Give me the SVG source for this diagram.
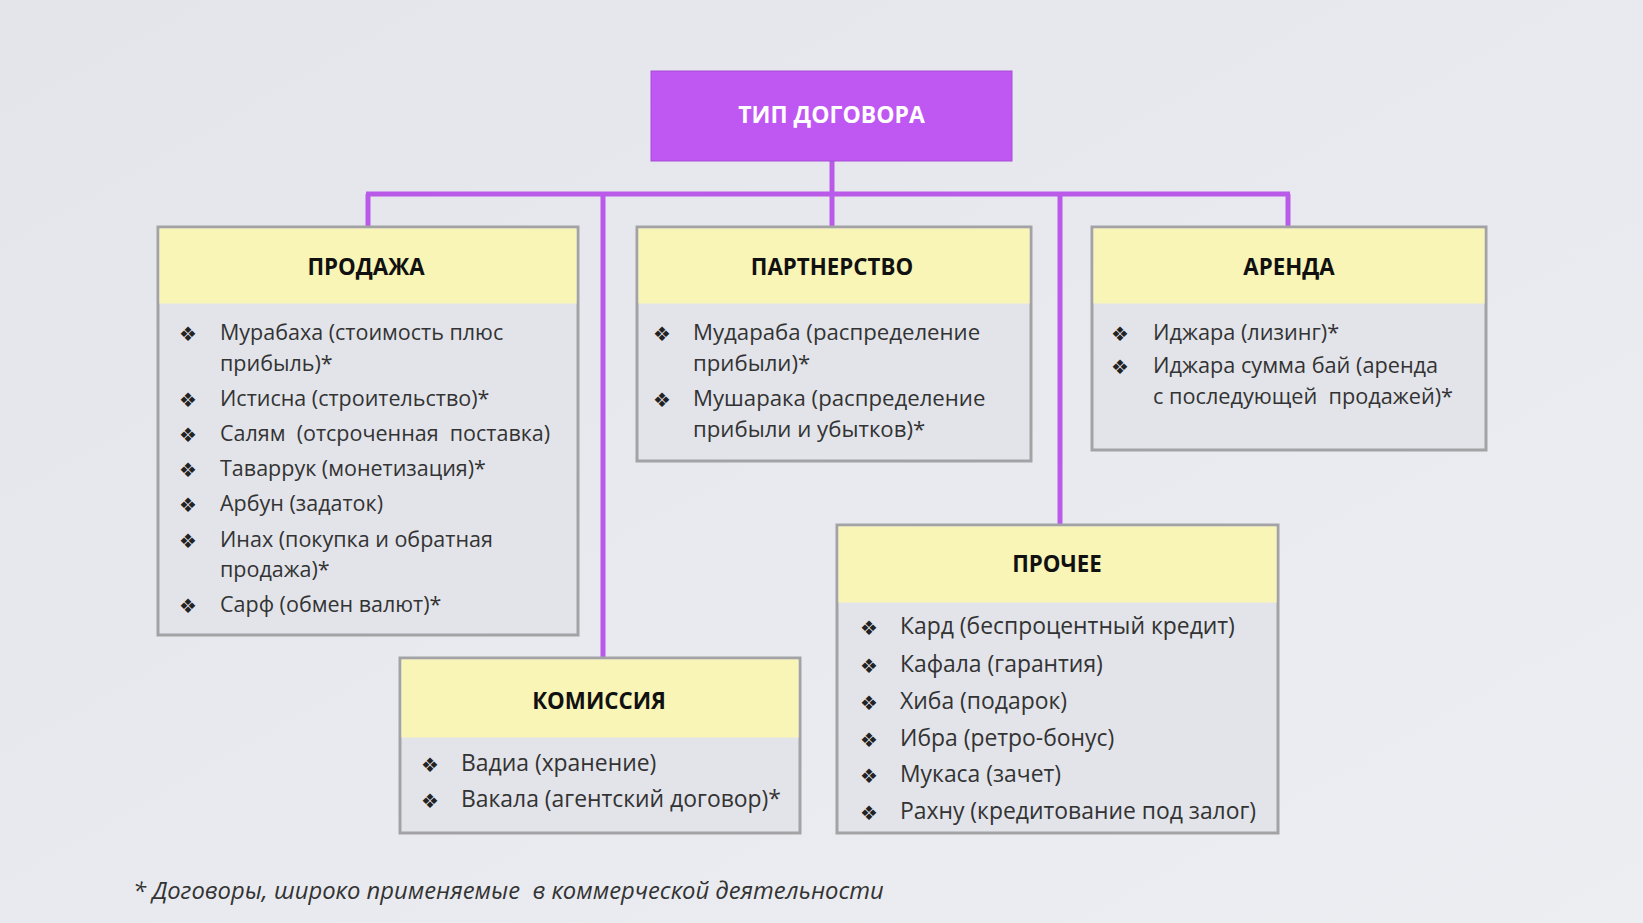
<svg xmlns="http://www.w3.org/2000/svg" width="1643" height="923" viewBox="0 0 1643 923">
<defs>
<linearGradient id="bg" x1="0" y1="0" x2="1" y2="1">
<stop offset="0" stop-color="#e3e5eb"/>
<stop offset="1" stop-color="#eceef2"/>
</linearGradient>
<style>
.box{fill:#e2e4ea;stroke:#a3a3a6;stroke-width:3}
.hdr{fill:#f9f5b6}
.ht{font-family:"Open Sans","Liberation Sans",sans-serif;font-weight:bold;font-size:22.3px;fill:#111;text-anchor:middle}
.it{font-family:"Open Sans","Liberation Sans",sans-serif;font-size:21.5px;fill:#333}
.it2{font-size:22.2px}
.it4{font-size:21.7px}
.it3{font-size:22.9px}
.bu{font-family:"DejaVu Sans",sans-serif;font-size:20px;fill:#222;text-anchor:middle}
.con{stroke:#b95ae9;stroke-width:5;fill:none}
</style>
</defs>
<rect x="0" y="0" width="1643" height="923" fill="url(#bg)"/>
<g id="connectors">
<line class="con" x1="832" y1="161" x2="832" y2="226"/>
<line class="con" x1="366" y1="194" x2="1290" y2="194"/>
<line class="con" x1="368" y1="194" x2="368" y2="226"/>
<line class="con" x1="603" y1="194" x2="603" y2="657"/>
<line class="con" x1="1060" y1="194" x2="1060" y2="524"/>
<line class="con" x1="1288" y1="194" x2="1288" y2="226"/>
</g>
<g id="root">
<rect x="651" y="71" width="361" height="90" fill="#bf57f2" stroke="#a84cd8" stroke-width="1"/>
<text x="831.5" y="123" style="font-family:'Open Sans','Liberation Sans',sans-serif;font-weight:bold;font-size:23px;fill:#fff;text-anchor:middle">ТИП ДОГОВОРА</text>
</g>
<g id="prodazha">
<rect class="box" x="158" y="227" width="420" height="408"/>
<rect class="hdr" x="159.5" y="228.5" width="417" height="75"/>
<text class="ht" x="366" y="275">ПРОДАЖА</text>
<text class="bu" x="188" y="341">❖</text><text class="it" x="220" y="340">Мурабаха (стоимость плюс</text>
<text class="it" x="220" y="371">прибыль)*</text>
<text class="bu" x="188" y="407">❖</text><text class="it" x="220" y="406">Истисна (строительство)*</text>
<text class="bu" x="188" y="442">❖</text><text class="it" x="220" y="441" xml:space="preserve">Салям  (отсроченная  поставка)</text>
<text class="bu" x="188" y="477">❖</text><text class="it" x="220" y="476">Таваррук (монетизация)*</text>
<text class="bu" x="188" y="512">❖</text><text class="it" x="220" y="511">Арбун (задаток)</text>
<text class="bu" x="188" y="548">❖</text><text class="it" x="220" y="547">Инах (покупка и обратная</text>
<text class="it" x="220" y="577">продажа)*</text>
<text class="bu" x="188" y="613">❖</text><text class="it" x="220" y="612">Сарф (обмен валют)*</text>
</g>
<g id="partnerstvo">
<rect class="box" x="637" y="227" width="394" height="234"/>
<rect class="hdr" x="638.5" y="228.5" width="391" height="75"/>
<text class="ht" x="832" y="275">ПАРТНЕРСТВО</text>
<text class="bu" x="662" y="341">❖</text><text class="it it2" x="693" y="340">Мудараба (распределение</text>
<text class="it it2" x="693" y="371">прибыли)*</text>
<text class="bu" x="662" y="407">❖</text><text class="it it2" x="693" y="406">Мушарака (распределение</text>
<text class="it it2" x="693" y="437">прибыли и убытков)*</text>
</g>
<g id="arenda">
<rect class="box" x="1092" y="227" width="394" height="223"/>
<rect class="hdr" x="1093.5" y="228.5" width="391" height="75"/>
<text class="ht" x="1289" y="275">АРЕНДА</text>
<text class="bu" x="1120" y="341">❖</text><text class="it it4" x="1153" y="340">Иджара (лизинг)*</text>
<text class="bu" x="1120" y="374">❖</text><text class="it it4" x="1153" y="373">Иджара сумма бай (аренда</text>
<text class="it it4" x="1153" y="404" xml:space="preserve">с последующей  продажей)*</text>
</g>
<g id="komissiya">
<rect class="box" x="400" y="658" width="400" height="175"/>
<rect class="hdr" x="401.5" y="659.5" width="397" height="78"/>
<text class="ht" x="599" y="709">КОМИССИЯ</text>
<text class="bu" x="430" y="772">❖</text><text class="it it3" x="461" y="771">Вадиа (хранение)</text>
<text class="bu" x="430" y="808">❖</text><text class="it it3" x="461" y="807">Вакала (агентский договор)*</text>
</g>
<g id="prochee">
<rect class="box" x="837" y="525" width="441" height="308"/>
<rect class="hdr" x="838.5" y="526.5" width="438" height="76"/>
<text class="ht" x="1057" y="572">ПРОЧЕЕ</text>
<text class="bu" x="869" y="635">❖</text><text class="it it3" x="900" y="634">Кард (беспроцентный кредит)</text>
<text class="bu" x="869" y="673">❖</text><text class="it it3" x="900" y="672">Кафала (гарантия)</text>
<text class="bu" x="869" y="710">❖</text><text class="it it3" x="900" y="709">Хиба (подарок)</text>
<text class="bu" x="869" y="747">❖</text><text class="it it3" x="900" y="746">Ибра (ретро-бонус)</text>
<text class="bu" x="869" y="783">❖</text><text class="it it3" x="900" y="782">Мукаса (зачет)</text>
<text class="bu" x="869" y="820">❖</text><text class="it it3" x="900" y="819">Рахну (кредитование под залог)</text>
</g>
<text x="133" y="899" xml:space="preserve" style="font-family:'Open Sans','Liberation Sans',sans-serif;font-style:italic;font-size:23.8px;fill:#333">* Договоры, широко применяемые  в коммерческой деятельности</text>
</svg>
